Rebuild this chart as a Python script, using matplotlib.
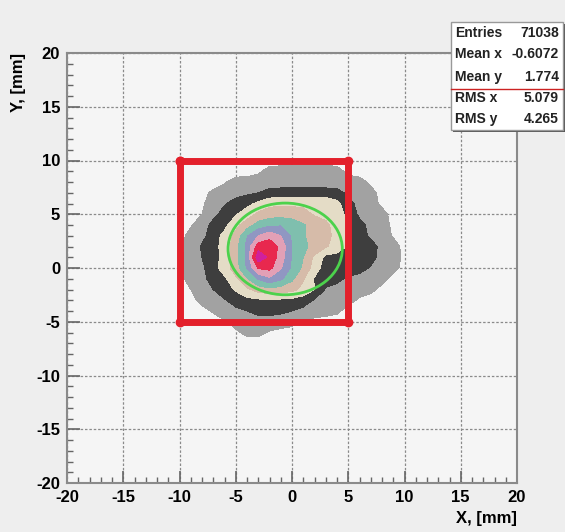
import numpy as np
import matplotlib
matplotlib.use("Agg")
import matplotlib.pyplot as plt
from matplotlib.patches import Ellipse, Rectangle

plt.rcParams['font.family'] = ['Liberation Sans', 'DejaVu Sans']
plt.rcParams['axes.unicode_minus'] = False

# bin centres of the contour map (mm)
x_bins = list(range(-12, 12))
y_bins = list(range(12, -9, -1))

# density level for each bin (rows from y=12 down to y=-8)
levels_map = [
    [0]*24,
    [0]*24,
    [0]*24,
    [0,0,0,0,0,0,0,0,0,.3,.9,1,1.2,1,1,1.1,.9,.2,0,0,0,0,0,0],
    [0,0,0,0,0,0,.4,.9,1,1,1,1,1,1,1,1,1,1,.9,.3,0,0,0,0],
    [0,0,0,0,.2,.7,1,1.1,1.3,1.5,1.8,1.9,1.9,1.9,1.9,1.9,1.8,1.3,1,.8,.2,0,0,0],
    [0,0,0,0,.4,.8,1.4,1.9,2.2,2.7,3.2,3.3,3.3,3.3,3.3,3.2,2.8,1.8,1.2,.9,.3,0,0,0],
    [0,0,0,.2,.5,1.2,1.9,2.4,3.0,3.7,4.0,4.1,4.0,3.8,3.4,3.2,3.0,2.2,1.3,1,.8,.2,0,0],
    [0,0,.1,.4,1,1.8,2.2,3.2,4.0,4.9,5.3,5.4,5.1,4.6,4.1,3.7,3.1,2.5,1.8,1.2,.9,.3,0,0],
    [0,0,.2,.8,1.2,2.0,2.8,3.8,5.4,6.5,7.1,6.5,5.3,4.6,4.1,3.8,3.2,2.6,2.0,1.3,1,.4,0,0],
    [0,0,.2,.9,1.6,2.1,2.9,4.1,5.8,8.0,8.2,7.2,5.5,4.7,4.2,3.6,3.1,2.4,2.1,1.9,1.2,.9,.2,0],
    [0,0,.2,1,1.5,2.0,2.9,4.1,5.8,9.2,8.3,7.0,5.4,4.5,3.3,2.2,2.1,2.3,2.0,1.9,1.1,.9,.3,0],
    [0,0,.2,1,1.3,2.1,3.0,4.0,5.6,7.6,7.8,6.6,5.3,4.3,3.0,2.0,1.9,2.2,1.9,1.4,1.1,.8,.2,0],
    [0,0,.2,.9,1.2,1.9,2.3,3.3,4.4,5.6,6.3,5.7,4.7,3.6,2.4,1.9,1.8,1.3,1.1,1,.8,.2,0,0],
    [0,0,.1,.5,1.1,1.5,2.1,2.6,3.3,3.9,4.2,4.0,3.8,3.2,2.5,1.4,1.1,1,1,.8,.2,0,0,0],
    [0,0,0,.2,.8,1.1,1.4,2.0,2.2,2.3,2.4,2.3,2.2,2.0,1.4,1,1,.9,.3,0,0,0,0,0],
    [0,0,0,0,.2,.6,1,1.2,1.5,1.7,1.8,1.7,1.5,1.2,1,1,.7,.1,0,0,0,0,0,0],
    [0,0,0,0,0,.1,.4,.9,1.1,1.2,1.1,1,.9,.4,.2,0,0,0,0,0,0,0,0,0],
    [0,0,0,0,0,0,0,.3,.8,.8,.4,.2,0,0,0,0,0,0,0,0,0,0,0,0],
    [0]*24,
    [0]*24,
]
level_colors = ['#a2a2a2', '#3e3e3e', '#e4dcc6', '#d6bba9', '#7fbfae',
                '#9097c2', '#e2a0b6', '#e8284e', '#d0209c']

# statistics box
entries = 71038
mean_x, mean_y = -0.6072, 1.774
rms_x, rms_y = 5.079, 4.265

# selection window (mm)
box_x = [-10, 5, 5, -10, -10]
box_y = [10, 10, -5, -5, 10]

fig = plt.figure(figsize=(5.65, 5.32), dpi=100, facecolor='#eeeeee')
ax = fig.add_axes([67/565, 1-483/532, 450/565, 430/532])
ax.set_facecolor('#f5f5f5')

X, Y = np.meshgrid(x_bins, y_bins)
Z = np.array(levels_map, dtype=float)
ax.contourf(X, Y, Z, levels=np.arange(0.5, 10, 1), colors=level_colors, zorder=1)

ax.set_xlim(-20, 20)
ax.set_ylim(-20, 20)
ax.set_xticks(np.arange(-20, 21, 5))
ax.set_yticks(np.arange(-20, 21, 5))
ax.set_xticks(np.arange(-20, 21, 1), minor=True)
ax.set_yticks(np.arange(-20, 21, 1), minor=True)
ax.tick_params(which='both', direction='in', colors='#666666', top=False, right=False)
ax.tick_params(which='major', length=9, width=1.2, labelsize=12, labelcolor='black', pad=5)
ax.tick_params(which='minor', length=4.5, width=1)
for lab in ax.get_xticklabels() + ax.get_yticklabels():
    lab.set_fontweight('bold')
ax.grid(True, which='major', linestyle=(0, (2, 1.5)), color='#8a8a8a', linewidth=0.9, zorder=0)
ax.set_axisbelow(True)
for s in ax.spines.values():
    s.set_color('#8a8a8a')
    s.set_linewidth(1.5)

ax.add_patch(Ellipse((mean_x, mean_y), 2*rms_x, 2*rms_y, fill=False,
                     edgecolor='#4cd24c', linewidth=2, zorder=3))
ax.plot(box_x, box_y, color='#e3202b', linewidth=5, marker='o', markersize=6,
        solid_joinstyle='miter', zorder=4)

fig.text(18/565, 1-53/532, 'Y, [mm]', rotation=90, ha='center', va='top',
         fontsize=12, fontweight='bold')
fig.text(517/565, 1-519/532, 'X, [mm]', ha='right', va='center',
         fontsize=12, fontweight='bold')

# stats box with shadow
bx0, by0, bw, bh = 451/565, 1-130/532, 112/565, 108/532
fig.patches.append(Rectangle((bx0+2/565, by0-2/532), bw, bh, transform=fig.transFigure,
                             facecolor='#555555', edgecolor='none', zorder=5))
fig.patches.append(Rectangle((bx0, by0), bw, bh, transform=fig.transFigure,
                             facecolor='white', edgecolor='#999999', linewidth=1, zorder=6))
names = ['Entries', 'Mean x', 'Mean y', 'RMS x', 'RMS y']
vals = [str(entries), f'{mean_x:.4f}', f'{mean_y:.3f}', f'{rms_x:.3f}', f'{rms_y:.3f}']
rows_py = [33, 54, 77, 98, 119]
for n, v, py in zip(names, vals, rows_py):
    fig.text(455/565, 1-py/532, n, ha='left', va='center', fontsize=10,
             fontweight='bold', color='#222222', zorder=7)
    fig.text(559/565, 1-py/532, v, ha='right', va='center', fontsize=10,
             fontweight='bold', color='#222222', zorder=7)
fig.lines.append(plt.Line2D([bx0, bx0+bw], [1-89/532, 1-89/532], transform=fig.transFigure,
                            color='#cc2222', linewidth=1, zorder=7))

fig.savefig('out.png', dpi=100, facecolor=fig.get_facecolor())
